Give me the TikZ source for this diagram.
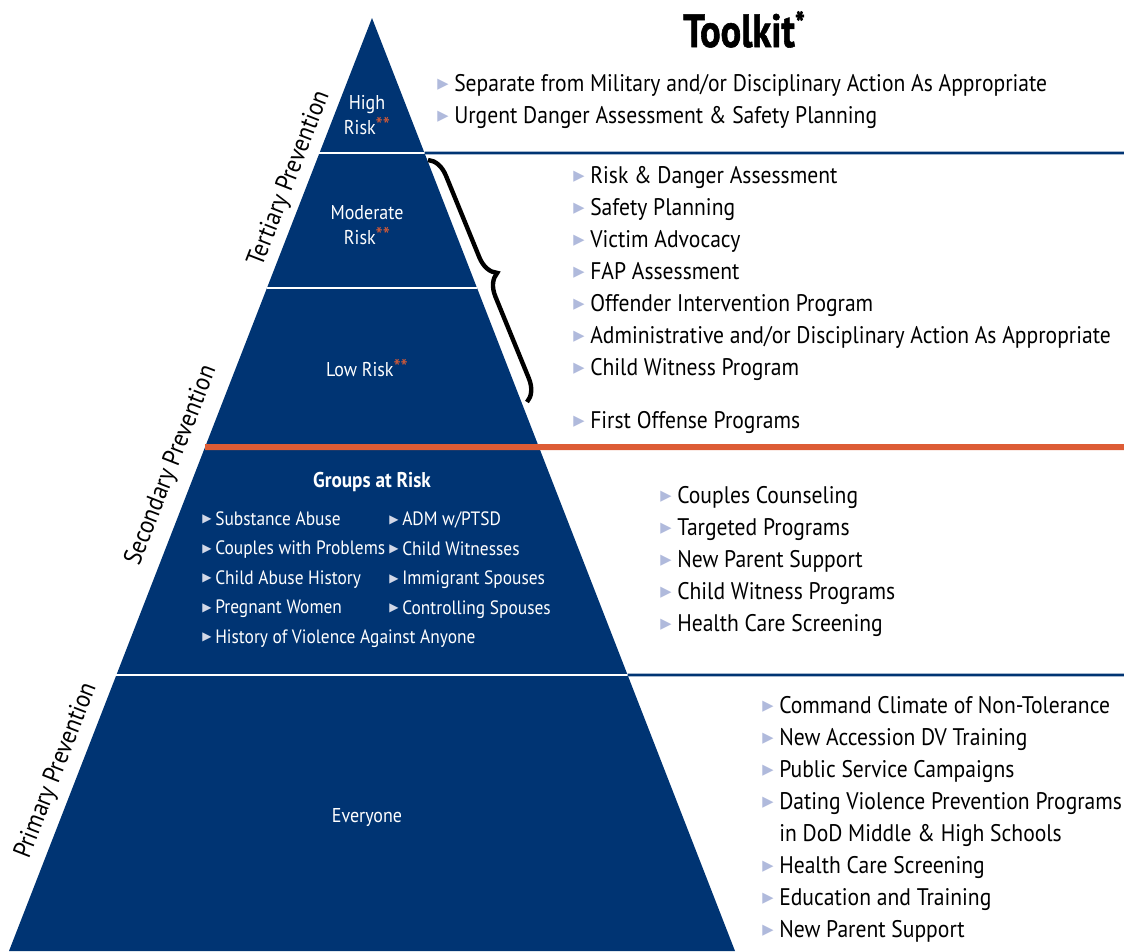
\documentclass[tikz,border=0pt]{standalone}
\usepackage{fontspec}
\setmainfont[FakeStretch=0.9]{PT Sans}
\newfontfamily\titlef[FakeStretch=0.82,FakeBold=1.2]{PT Sans}
\newfontfamily\symf{DejaVu Sans}
\usetikzlibrary{calc,decorations.pathreplacing}
\definecolor{navy}{RGB}{0,52,115}
\definecolor{orng}{RGB}{221,92,53}
\definecolor{bulc}{RGB}{176,186,220}
\definecolor{bulw}{RGB}{210,216,232}
\newcommand{\blr}{\makebox[12.75pt][l]{\raisebox{1.8pt}{\symf\fontsize{11}{11}\selectfont\color{bulc}▶}}}
\newcommand{\blp}{\makebox[9.75pt][l]{\raisebox{1.8pt}{\symf\fontsize{9}{9}\selectfont\color{bulw}▶}}}
\newcommand{\stars}{\raisebox{0.5pt}{\fontsize{17}{17}\selectfont\color{orng}**}}
\tikzset{
  listtxt/.style={anchor=base west, align=left, inner sep=0, font=\fontsize{18}{24}\selectfont, text=black},
  pyrtxt/.style={text=white, align=center, inner sep=0, font=\fontsize{15}{18.75}\selectfont},
  pyrlist/.style={anchor=base west, align=left, inner sep=0, text=white, font=\fontsize{14.5}{22.1}\selectfont},
  sidelbl/.style={rotate=68.74, anchor=base, inner sep=0, font=\fontsize{19.2}{24}\selectfont},
  whiteline/.style={white, line width=1.9pt},
  navyline/.style={navy, line width=2.1pt},
  orangeline/.style={orng, line width=4.5pt},
}
\begin{document}
\begin{tikzpicture}[x=0.75pt,y=-0.75pt]
\useasboundingbox (0,0) rectangle (1124,951);
% pyramid
\coordinate (apex) at (372,18);
\coordinate (bl) at (9,951);
\coordinate (br) at (735,951);
\fill[navy] (apex) -- (bl) -- (br) -- cycle;
% layer boundaries
\coordinate (l1) at ($(apex)!0.14470!(bl)$);
\coordinate (r1) at ($(apex)!0.14470!(br)$);
\coordinate (l2) at ($(apex)!0.28939!(bl)$);
\coordinate (r2) at ($(apex)!0.28939!(br)$);
\coordinate (l3) at ($(apex)!0.45981!(bl)$);
\coordinate (r3) at ($(apex)!0.45981!(br)$);
\coordinate (l4) at ($(apex)!0.70418!(bl)$);
\coordinate (r4) at ($(apex)!0.70418!(br)$);
\coordinate (e1) at (1124,153);
\coordinate (e3) at (1124,447);
\coordinate (e4) at (1124,675);
\draw[whiteline] (l1) -- (r1);
\draw[navyline] (r1) -- (e1);
\draw[whiteline] (l2) -- (r2);
\draw[orangeline] (l3) -- (e3);
\draw[whiteline] (l4) -- (r4);
\draw[navyline] (r4) -- (e4);
% brace
\coordinate (b1) at (428,160);
\coordinate (b2) at (527,402);
\draw[line width=3.3pt, decorate, decoration={brace, amplitude=16pt}] (b1) -- (b2);
% title
\node[anchor=base west, inner sep=0, font=\fontsize{35}{35}\titlef\bfseries] (title) at (683,47) {Toolkit\textsuperscript{*}};
% right lists (anchored at the baseline of the last line)
\node[listtxt] (tk1) at (437,123) {\blr Separate from Military and/or Disciplinary Action As Appropriate\\
\blr Urgent Danger Assessment \& Safety Planning};
\node[listtxt] (tk2) at (573,428) {\blr Risk \& Danger Assessment\\
\blr Safety Planning\\
\blr Victim Advocacy\\
\blr FAP Assessment\\
\blr Offender Intervention Program\\
\blr Administrative and/or Disciplinary Action As Appropriate\\
\blr Child Witness Program\\[15.75pt]
\blr First Offense Programs};
\node[listtxt] (tk3) at (660,631) {\blr Couples Counseling\\
\blr Targeted Programs\\
\blr New Parent Support\\
\blr Child Witness Programs\\
\blr Health Care Screening};
\node[listtxt] (tk4) at (762,937) {\blr Command Climate of Non-Tolerance\\
\blr New Accession DV Training\\
\blr Public Service Campaigns\\
\blr Dating Violence Prevention Programs\\
\hspace*{12.75pt}in DoD Middle \& High Schools\\
\blr Health Care Screening\\
\blr Education and Training\\
\blr New Parent Support};
% pyramid labels
\node[pyrtxt, anchor=base] (high) at (367,134) {High\\Risk\stars};
\node[pyrtxt, anchor=base] (mod) at (367,244) {Moderate\\Risk\stars};
\node[pyrtxt] (low) at (367,368) {Low Risk\stars};
\node[pyrtxt, font=\fontsize{16}{20}\selectfont\bfseries] (grp) at (372,482) {Groups at Risk};
\node[pyrlist] (gl) at (202,643) {\blp Substance Abuse\\
\blp Couples with Problems\\
\blp Child Abuse History\\
\blp Pregnant Women\\
\blp History of Violence Against Anyone};
\node[pyrlist] (gr) at (389,614) {\blp ADM w/PTSD\\
\blp Child Witnesses\\
\blp Immigrant Spouses\\
\blp Controlling Spouses};
\node[pyrtxt] (every) at (367,818) {Everyone};
% side labels
\node[sidelbl] (tp) at (295.5,181) {Tertiary Prevention};
\node[sidelbl] (sp) at (177.5,468) {Secondary Prevention};
\node[sidelbl] (pp) at (62.5,773) {Primary Prevention};
\end{tikzpicture}
\end{document}
